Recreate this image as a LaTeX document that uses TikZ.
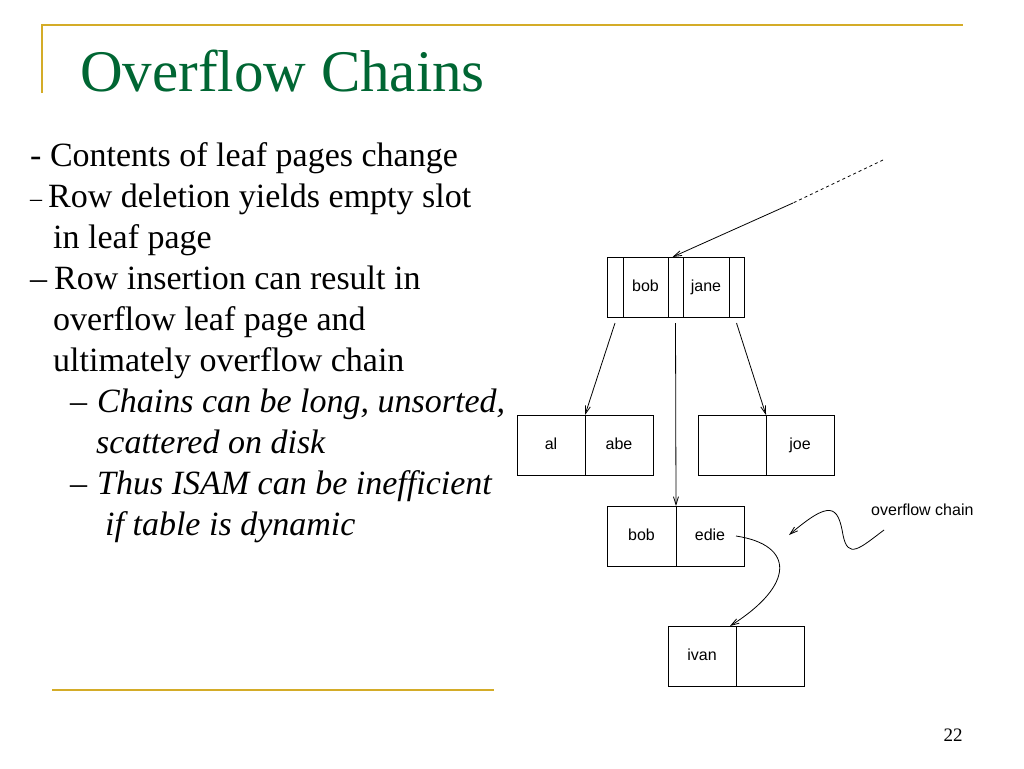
\documentclass[tikz,border=0pt]{standalone}
\usepackage{fontspec}
\setmainfont{Liberation Serif}
\newfontfamily\diagfont{Liberation Sans}
\usetikzlibrary{arrows.meta, positioning, calc}
\definecolor{titlegreen}{RGB}{0,102,51}
\definecolor{rulegold}{RGB}{212,172,40}
\tikzset{
    cell/.style={draw, line width=0.9pt, minimum height=60pt, inner sep=0pt, outer sep=0pt, text height=11pt, text depth=3pt, font=\diagfont\fontsize{16}{16}\selectfont},
    ptr/.style={-{Straight Barb[length=8pt, width=5pt]}, line width=0.8pt},
    goldrule/.style={rulegold, line width=2pt}
}
\begin{document}
\begin{tikzpicture}[x=1pt, y=-1pt]
        \useasboundingbox (0,0) rectangle (1024,768);

        % Title and rules
        \coordinate (ruleA) at (42,25);
        \coordinate (ruleB) at (963,25);
        \coordinate (ruleC) at (42,93);
        \coordinate (ruleD) at (52,690);
        \coordinate (ruleE) at (494,690);
        \draw[goldrule] (ruleC) -- (ruleA) -- (ruleB);
        \draw[goldrule] (ruleD) -- (ruleE);
        \node[anchor=base west, inner sep=0pt, text=titlegreen, font=\fontsize{59}{59}\selectfont] (title) at (80,91) {Overflow Chains};

        % Bullet text
        \node[anchor=north west, inner sep=0pt, align=left, font=\fontsize{34}{41}\selectfont] (body) at (30,142) {%
            - Contents of leaf pages change\\
            {\fontsize{24}{24}\selectfont\raisebox{1pt}{--}}\hspace{6pt}Row deletion yields empty slot\\
            \hspace*{23pt}in leaf page\\
            --\hspace{7pt}Row insertion can result in\\
            \hspace*{23pt}overflow leaf page and\\
            \hspace*{23pt}ultimately overflow chain\\
            \hspace*{40pt}\textit{--\hspace{10pt}Chains can be long, unsorted,}\\
            \hspace*{66pt}\textit{scattered on disk}\\
            \hspace*{40pt}\textit{--\hspace{10pt}Thus ISAM can be inefficient}\\
            \hspace*{75pt}\textit{if table is dynamic}};

        % Root page
        \node[cell, minimum width=16pt, anchor=west] (rp1) at (607,287) {};
        \node[cell, minimum width=45pt, right=0pt of rp1] (rbob) {bob};
        \node[cell, minimum width=15pt, right=0pt of rbob] (rp2) {};
        \node[cell, minimum width=46pt, right=0pt of rp2] (rjane) {jane};
        \node[cell, minimum width=15pt, right=0pt of rjane] (rp3) {};

        % Leaf pages
        \node[cell, minimum width=68pt, anchor=west] (lal) at (517,445) {al};
        \node[cell, minimum width=68pt, right=0pt of lal] (labe) {abe};
        \node[cell, minimum width=68pt, anchor=west] (rempty) at (698,445) {};
        \node[cell, minimum width=68pt, right=0pt of rempty] (rjoe) {joe};
        \node[cell, minimum width=69pt, anchor=west] (obob) at (607,536) {bob};
        \node[cell, minimum width=68pt, right=0pt of obob] (oedie) {edie};

        % Overflow page
        \node[cell, minimum width=68pt, anchor=west] (ivan) at (668,656) {ivan};
        \node[cell, minimum width=68pt, right=0pt of ivan] (iempty) {};

        % Incoming pointer
        \coordinate (incoming) at (883,160);
        \coordinate (inbreak) at (793,203);
        \draw[line width=0.8pt, dashed] (incoming) -- (inbreak);
        \draw[ptr] (inbreak) -- ([xshift=-3pt]rp2.north);

        % Pointers from root
        \draw[ptr] ([yshift=-6pt]rp1.south) -- (lal.north east);
        \draw[ptr] ([yshift=-6pt]rp2.south) -- (obob.north east);
        \draw[ptr] ([yshift=-6pt]rp3.south) -- (rjoe.north west);

        % Overflow chain
        \draw[ptr] ([xshift=-8pt]oedie.east) .. controls (795,545) and (795,585) .. ([xshift=-6pt]ivan.north east);
        \node[anchor=west, inner sep=0pt, font=\diagfont\fontsize{16}{16}\selectfont] (ochain) at (871,510) {overflow chain};
        \coordinate (squig) at (884,530);
        \draw[ptr] (squig) .. controls (860,548) and (848,560) .. (843,535) .. controls (838,505) and (830,500) .. (789,535);

        % Page number
        \node[font=\fontsize{19}{19}\selectfont] (pagenum) at (953,735) {22};
\end{tikzpicture}
\end{document}
